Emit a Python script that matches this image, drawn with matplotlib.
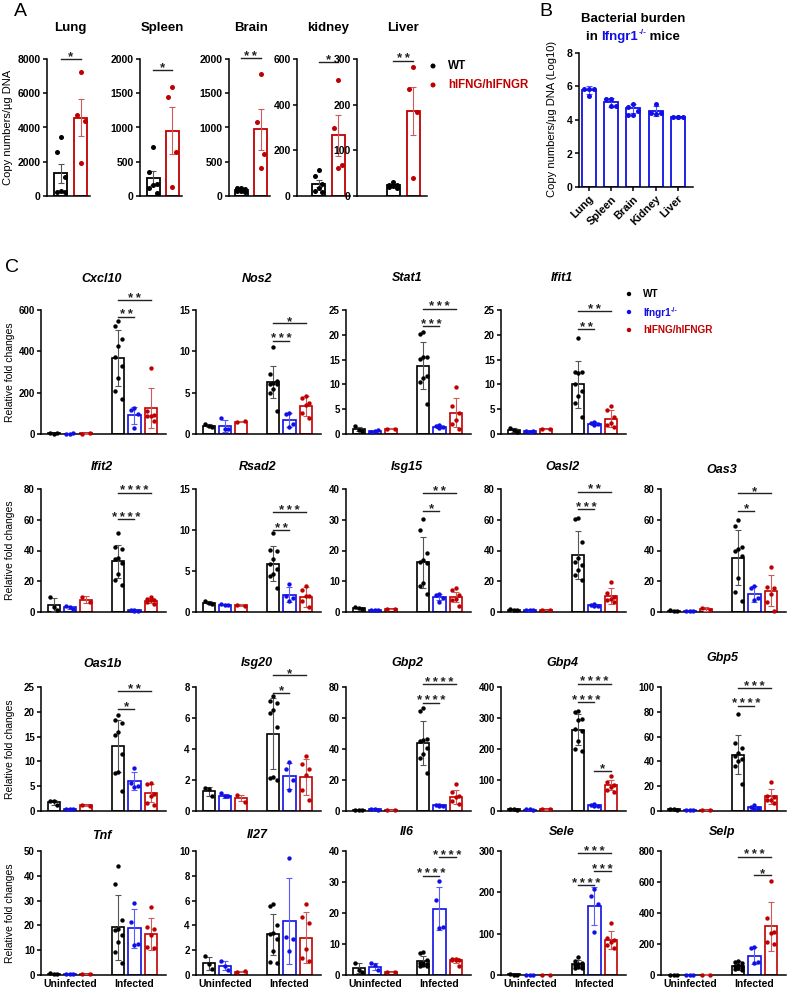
import numpy as np
import matplotlib
matplotlib.use('Agg')
import matplotlib.pyplot as plt
from matplotlib.ticker import FuncFormatter

plt.rcParams['font.family'] = ['Liberation Sans', 'DejaVu Sans']
plt.rcParams['mathtext.fontset'] = 'custom'
plt.rcParams['mathtext.rm'] = 'Liberation Sans'
plt.rcParams['mathtext.bf'] = 'Liberation Sans:bold'

W, H = 792, 991

# ====================== DATA ======================
# ---- Panel A: copy numbers / ug DNA (mean +/- SEM) ----
A_organs = ['Lung', 'Spleen', 'Brain', 'kidney', 'Liver']
A_wt_lung = [3463, 2552, 1127, 251, 251, 310]
A_hu_lung = [7259, 4730, 4397, 1910]
A_wt_spleen = [720, 355, 175, 112, 40, 160]
A_hu_spleen = [1587, 1450, 647, 127]
A_wt_brain = [120, 110, 95, 80, 70, 60]
A_hu_brain = [1786, 1078, 607, 413]
A_wt_kidney = [114, 87, 51, 36, 22, 17]
A_hu_kidney = [510, 298, 135, 121]
A_wt_liver = [30, 25, 22, 20, 18, 25]
A_hu_liver = [283, 235, 183, 40]
A_ymax = [8000, 2000, 2000, 600, 300]
A_step = [2000, 500, 500, 200, 100]
A_sig = ['*', '*', '**', '*', '**']
A_sig_y = [8000, 1840, 2015, 587, 296]

# ---- Panel B: Ifngr1-/- bacterial burden (Log10) ----
B_labels = ['Lung', 'Spleen', 'Brain', 'Kidney', 'Liver']
B_mean = [5.78, 5.05, 4.70, 4.53, 4.16]
B_sd = [0.22, 0.27, 0.28, 0.30, 0.04]
B_pts_lung = [5.85, 5.85, 5.85, 5.42]
B_pts_spleen = [5.25, 5.28, 4.85, 4.85]
B_pts_brain = [4.95, 4.80, 4.55, 4.30, 4.30]
B_pts_kidney = [4.95, 4.40, 4.40, 4.35]
B_pts_liver = [4.20, 4.18, 4.15, 4.15]

# ---- Panel C: relative fold changes (mean +/- SD) ----
# group order: Uninfected WT, Ifngr1-/-, hIFNG/hIFNGR, Infected WT, Ifngr1-/-, hIFNG/hIFNGR
groups = ['WT', 'Ifngr1-/-', 'hIFNG/hIFNGR']
conditions = ['Uninfected', 'Infected']

cxcl10_pts = [[4, 2, 3], [2, 2, 3], [2, 3], [545, 525, 460, 425, 375, 330, 270, 210, 170], [125, 118, 95, 30], [321, 110, 94, 86, 86, 62]]
cxcl10_mean = [3, 2, 2.5, 368, 90, 126]
cxcl10_sd = [1, 0.5, 0.5, 137, 40, 95]

nos2_pts = [[1.25, 0.95, 0.9], [1.9, 0.55, 0.6], [1.5, 1.55], [10.5, 7.3, 6.4, 6.2, 6.1, 6.0, 5.4, 5.0, 2.8], [2.5, 2.4, 1.2, 0.8], [4.6, 4.4, 3.8, 3.5, 2.6, 1.9]]
nos2_mean = [1.0, 1.0, 1.5, 6.3, 1.7, 3.4]
nos2_sd = [0.15, 0.75, 0.05, 1.9, 0.85, 1.2]

stat1_pts = [[1.6, 0.9, 0.7], [0.5, 0.7, 0.8], [1.1, 1.1], [20.5, 20.2, 15.6, 15.5, 15.2, 11.6, 11.2, 10.5, 6.0], [1.8, 1.6, 1.4, 1.2], [9.5, 5.6, 4.3, 2.9, 2.1, 1.1]]
stat1_mean = [1.0, 0.6, 1.1, 13.8, 1.5, 4.3]
stat1_sd = [0.45, 0.15, 0.05, 4.8, 0.25, 2.9]

ifit1_pts = [[1.3, 0.9, 0.4], [0.6, 0.5, 0.6], [1.0, 1.0], [19.3, 12.6, 12.4, 12.2, 10.0, 8.6, 7.6, 6.3, 3.5], [2.4, 2.2, 2.0, 1.8], [5.6, 4.8, 3.5, 2.3, 1.8, 1.5]]
ifit1_mean = [0.85, 0.55, 1.0, 10.0, 2.1, 3.1]
ifit1_sd = [0.4, 0.05, 0.03, 4.8, 0.3, 1.7]

ifit2_pts = [[9.5, 3.0, 1.5], [4.0, 3.5, 2.0], [10.0, 6.5], [51.2, 42.2, 40.9, 35.0, 34.4, 31.8, 24.9, 21.0, 17.3], [1.2, 1.0, 0.9, 0.8], [10.0, 8.5, 8.0, 7.5, 6.5, 5.5]]
ifit2_mean = [4.7, 3.2, 8.0, 32.9, 1.0, 7.4]
ifit2_sd = [4.3, 1.0, 2.3, 10.8, 0.2, 1.8]

rsad2_pts = [[1.4, 1.1, 1.0], [0.95, 0.9, 0.85], [0.9, 0.75], [9.6, 7.6, 7.4, 6.5, 5.8, 5.2, 4.65, 4.4, 2.9], [3.4, 2.0, 1.7, 1.4], [3.2, 2.7, 2.0, 1.9, 1.3, 0.65]]
rsad2_mean = [1.15, 0.9, 0.82, 5.9, 2.1, 1.86]
rsad2_sd = [0.2, 0.05, 0.1, 2.1, 0.9, 1.2]

isg15_pts = [[1.5, 1.2, 1.0], [0.8, 0.7, 0.7], [1.1, 1.0], [30.3, 26.8, 19.3, 17.0, 16.3, 15.8, 9.4, 8.6, 5.9], [5.8, 5.5, 4.5, 3.4], [7.7, 7.3, 5.6, 4.1, 3.9, 2.1]]
isg15_mean = [1.2, 0.75, 1.05, 16.1, 5.0, 4.8]
isg15_sd = [0.25, 0.05, 0.05, 8.2, 1.0, 1.6]

oasl2_pts = [[2.2, 1.5, 1.0], [1.2, 1.0, 1.0], [1.1, 1.0], [61.3, 60.2, 45.6, 35.2, 32.2, 30.4, 27.2, 23.9, 20.6], [5.0, 4.5, 4.0, 3.8], [19.3, 12.5, 9.8, 8.7, 7.5, 6.2]]
oasl2_mean = [1.3, 1.0, 1.05, 37.0, 4.3, 10.4]
oasl2_sd = [0.6, 0.1, 0.05, 15.6, 0.5, 5.2]

oas3_pts = [[1.2, 0.9, 0.6], [0.6, 0.7, 0.5], [2.8, 1.2], [59.6, 55.7, 42.4, 41.3, 40.0, 36.3, 22.4, 12.7, 7.3], [17.0, 15.5, 8.8, 7.7], [29.5, 16.3, 15.5, 12.0, 6.2, 0.9]]
oas3_mean = [0.86, 0.6, 1.9, 35.3, 11.6, 13.8]
oas3_sd = [0.3, 0.1, 1.4, 17.8, 5.2, 10.0]

oas1b_pts = [[2.1, 2.0, 1.2], [0.45, 0.4, 0.4], [1.2, 1.1], [19.3, 18.3, 17.8, 16.0, 15.3, 11.4, 7.9, 7.6, 4.1], [8.7, 5.6, 5.0, 4.8], [5.6, 5.5, 3.4, 3.0, 1.7, 1.2]]
oas1b_mean = [1.8, 0.45, 1.15, 13.1, 6.0, 3.6]
oas1b_sd = [0.5, 0.05, 0.05, 5.3, 1.8, 1.8]

isg20_pts = [[1.5, 1.4, 1.0], [1.15, 1.0, 0.95], [1.05, 0.6], [7.4, 7.1, 7.0, 6.5, 6.3, 5.4, 2.2, 2.15, 2.0], [3.16, 2.73, 1.98, 1.33], [3.55, 3.05, 2.73, 2.3, 1.33, 0.69]]
isg20_mean = [1.27, 0.97, 0.84, 5.0, 2.26, 2.2]
isg20_sd = [0.28, 0.12, 0.2, 2.3, 0.85, 1.15]

gbp2_pts = [[0.9, 0.8, 0.7], [1.2, 1.0, 0.9], [0.8, 0.8], [66.4, 64.4, 46.5, 46.0, 45.3, 40.5, 36.6, 34.5, 24.4], [4.0, 3.8, 3.5, 3.4], [17.5, 12.1, 10.0, 8.8, 6.7, 4.5]]
gbp2_mean = [0.8, 1.0, 0.8, 43.8, 3.6, 9.3]
gbp2_sd = [0.1, 0.15, 0.05, 14.0, 0.3, 4.5]

gbp4_pts = [[8, 5, 3], [5, 5, 4], [5, 5], [324, 319, 297, 292, 265, 259, 227, 200, 192], [24, 19, 17, 16], [113, 92, 85, 78, 67, 60]]
gbp4_mean = [5.3, 4.7, 5, 261.6, 19, 84]
gbp4_sd = [2.5, 0.5, 0.3, 50, 3.5, 16]

gbp5_pts = [[1.5, 1.5, 1.0], [0.8, 0.8, 0.8], [1.0, 1.0], [78.4, 55, 51, 47, 44, 42, 40, 36, 22], [4.5, 3.5, 2.5, 2.0], [23.7, 12.5, 11.2, 9.1, 8.5, 6.4]]
gbp5_mean = [1.3, 0.8, 1.0, 45.3, 3.1, 11.7]
gbp5_sd = [0.3, 0.05, 0.05, 15.7, 1.1, 5.9]

tnf_pts = [[1.0, 0.6, 0.3], [0.5, 0.5, 0.5], [0.5, 0.6], [44.1, 36.7, 22.2, 18.4, 18.1, 16.1, 13.4, 9.4, 5.0], [29.2, 21.5, 12.5, 12.0], [27.6, 19.5, 18.4, 16.1, 11.2, 10.8]]
tnf_mean = [0.6, 0.5, 0.55, 19.2, 18.8, 16.5]
tnf_sd = [0.35, 0.05, 0.05, 13.1, 7.8, 6.3]

il27_pts = [[1.5, 0.9, 0.45], [1.1, 0.75, 0.4], [0.25, 0.3], [5.7, 5.56, 4.03, 3.41, 3.28, 2.88, 1.94, 1.08, 1.0], [9.46, 3.1, 2.88, 1.94], [5.7, 4.68, 4.22, 2.07, 1.34, 1.13]]
il27_mean = [0.95, 0.75, 0.27, 3.28, 4.35, 3.0]
il27_sd = [0.53, 0.35, 0.03, 1.65, 3.45, 2.05]

il6_pts = [[4.0, 1.5, 1.0], [3.75, 3.2, 1.6], [1.0, 0.9], [7.5, 7.0, 5.0, 4.0, 3.8, 3.5, 3.2, 3.0, 2.8], [30.3, 24.1, 15.5, 15.3], [5.3, 5.1, 5.0, 4.9, 4.8, 2.8]]
il6_mean = [2.14, 2.7, 0.95, 4.5, 21.4, 4.7]
il6_sd = [1.6, 1.1, 0.05, 1.6, 7.0, 0.9]

sele_pts = [[2, 1, 1], [1, 1, 1], [1, 1], [43, 34, 30, 27, 25, 22, 20, 18, 16], [207, 191, 171, 105], [126, 90, 85, 80, 72, 66]]
sele_mean = [1.3, 1, 1, 27, 167, 84]
sele_sd = [0.5, 0.1, 0.1, 9, 45, 22]

selp_pts = [[2, 2, 2], [2, 2, 2], [3, 3], [90, 82, 75, 65, 60, 54, 45, 40, 32], [183, 172, 86, 75], [609, 366, 275, 269, 215, 198]]
selp_mean = [2, 2, 3, 60, 125, 316]
selp_sd = [0.3, 0.3, 0.3, 30, 57, 158]

# gene name, points, mean, sd, ymax, tick step, significance (group i, group j, y, label)
genes = [
    [('Cxcl10', cxcl10_pts, cxcl10_mean, cxcl10_sd, 600, 200, [(3, 4, 567, '**'), (3, 5, 648, '**')]),
     ('Nos2', nos2_pts, nos2_mean, nos2_sd, 15, 5, [(3, 4, 11.3, '***'), (3, 5, 13.4, '*')]),
     ('Stat1', stat1_pts, stat1_mean, stat1_sd, 25, 5, [(3, 4, 21.7, '***'), (3, 5, 25.3, '***')]),
     ('Ifit1', ifit1_pts, ifit1_mean, ifit1_sd, 25, 5, [(3, 4, 21.1, '**'), (3, 5, 24.7, '**')]),
     None],
    [('Ifit2', ifit2_pts, ifit2_mean, ifit2_sd, 80, 20, [(3, 4, 60.5, '****'), (3, 5, 77.6, '****')]),
     ('Rsad2', rsad2_pts, rsad2_mean, rsad2_sd, 15, 5, [(3, 4, 10.0, '**'), (3, 5, 12.2, '***')]),
     ('Isg15', isg15_pts, isg15_mean, isg15_sd, 40, 10, [(3, 4, 32.9, '*'), (3, 5, 38.6, '**')]),
     ('Oasl2', oasl2_pts, oasl2_mean, oasl2_sd, 80, 20, [(3, 4, 66.7, '***'), (3, 5, 78.3, '**')]),
     ('Oas3', oas3_pts, oas3_mean, oas3_sd, 80, 20, [(3, 4, 66, '*'), (3, 5, 77.2, '*')])],
    [('Oas1b', oas1b_pts, oas1b_mean, oas1b_sd, 25, 5, [(3, 4, 20.6, '*'), (3, 5, 24.1, '**')]),
     ('Isg20', isg20_pts, isg20_mean, isg20_sd, 8, 2, [(3, 4, 7.63, '*'), (3, 5, 8.75, '*')]),
     ('Gbp2', gbp2_pts, gbp2_mean, gbp2_sd, 80, 20, [(3, 4, 69.8, '****'), (3, 5, 81.7, '****')]),
     ('Gbp4', gbp4_pts, gbp4_mean, gbp4_sd, 400, 100, [(3, 4, 351, '****'), (3, 5, 411, '****'), (4, 5, 130, '*')]),
     ('Gbp5', gbp5_pts, gbp5_mean, gbp5_sd, 100, 20, [(3, 4, 85, '****'), (3, 5, 99.2, '***')])],
    [('Tnf', tnf_pts, tnf_mean, tnf_sd, 50, 10, []),
     ('Il27', il27_pts, il27_mean, il27_sd, 10, 2, []),
     ('Il6', il6_pts, il6_mean, il6_sd, 40, 10, [(3, 4, 32, '****'), (4, 5, 38.1, '****')]),
     ('Sele', sele_pts, sele_mean, sele_sd, 300, 100, [(3, 4, 218, '****'), (4, 5, 252, '***'), (3, 5, 294, '***')]),
     ('Selp', selp_pts, selp_mean, selp_sd, 800, 200, [(3, 5, 763, '***'), (4, 5, 645, '*')])],
]

# ====================== STYLE / LAYOUT ======================
BLACK = '#000000'
BLUE = '#1010e6'
RED = '#c00000'
COLS = [BLACK, BLUE, RED]
ECOLS = ['#555555', '#5a5aff', '#d05a5a']

fig = plt.figure(figsize=(W / 100, H / 100), dpi=100)


def px_axes(left, top, right, bottom):
    ax = fig.add_axes([left / W, 1 - bottom / H, (right - left) / W, (bottom - top) / H])
    ax.set_facecolor('none')
    return ax


fmt = FuncFormatter(lambda v, p: '%g' % v)


def style(ax, ymax, step, fs=7):
    ax.set_ylim(0, ymax)
    ax.set_yticks(np.arange(0, ymax + step / 2, step))
    ax.yaxis.set_major_formatter(fmt)
    for s in ['top', 'right']:
        ax.spines[s].set_visible(False)
    for s in ['left', 'bottom']:
        ax.spines[s].set_linewidth(1.1)
    ax.tick_params(axis='y', length=3, width=1.1, labelsize=fs, pad=1.5)
    ax.tick_params(axis='x', length=0, labelbottom=False)
    for t in ax.get_yticklabels():
        t.set_fontweight('bold')


def offsets(vals, spread):
    n = len(vals)
    if n == 1:
        return np.zeros(1)
    if n <= 3:
        return np.linspace(-spread, spread, n)
    pattern = [0.0, -spread, spread]
    order = np.argsort(-np.asarray(vals, dtype=float))
    off = np.zeros(n)
    for rank, idx in enumerate(order):
        off[idx] = pattern[rank % 3]
    return off


def draw_group(ax, x, mean, err, pts, ci, width, spread, s=10, lw=1.2):
    ax.bar(x, mean, width=width, facecolor='white', edgecolor=COLS[ci], linewidth=lw, zorder=2)
    ax.errorbar(x, mean, yerr=err, fmt='none', ecolor=ECOLS[ci], elinewidth=0.8,
                capsize=2.5, capthick=0.8, zorder=3)
    ax.scatter(x + offsets(pts, spread), pts, s=s, color=COLS[ci], zorder=4,
               linewidths=0, clip_on=False)


def sig(ax, x1, x2, y, label, fs=9.5):
    ax.plot([x1, x2], [y, y], color='#222222', lw=1.0, clip_on=False, zorder=5)
    ax.annotate('\u2009'.join(label), xy=((x1 + x2) / 2, y), xytext=(0, -1.2),
                textcoords='offset points', ha='center', va='baseline',
                fontsize=fs, fontweight='bold', color='#222222', annotation_clip=False)


overlay = fig.add_axes([0, 0, 1, 1], zorder=10)
overlay.set_xlim(0, W)
overlay.set_ylim(H, 0)
overlay.axis('off')

# ---------------- Panel A ----------------
A_wt = [A_wt_lung, A_wt_spleen, A_wt_brain, A_wt_kidney, A_wt_liver]
A_hu = [A_hu_lung, A_hu_spleen, A_hu_brain, A_hu_kidney, A_hu_liver]
# layout: axis left, first bar centre, second bar centre, axis right (pixels)
A_geom = [(47, 60.5, 80.5, 90), (140, 153, 172, 182), (229, 241, 260.5, 270),
          (297, 318.5, 338, 350), (357, 393, 413, 427)]
A_top, A_bot = 59, 196
for k in range(5):
    l, c0, c1, r = A_geom[k]
    u = c1 - c0
    ax = px_axes(l, A_top, r, A_bot)
    ax.set_xlim(-(c0 - l) / u, 1 + (r - c1) / u)
    for gi, (vals, ci) in enumerate([(A_wt[k], 0), (A_hu[k], 2)]):
        v = np.asarray(vals, float)
        m = v.mean()
        sem = v.std(ddof=1) / np.sqrt(len(v))
        draw_group(ax, gi, m, sem, vals, ci, 13 / u, 0.2, s=13, lw=1.3)
    style(ax, A_ymax[k], A_step[k], fs=7.5)
    sig(ax, 0, 1, A_sig_y[k], A_sig[k], fs=9.5)
    overlay.text((c0 + c1) / 2, 28, A_organs[k], ha='center', va='center',
                 fontsize=9.5, fontweight='bold')

overlay.text(8, 127, 'Copy numbers/µg DNA', rotation=90, ha='center', va='center', fontsize=8)
overlay.text(14, 11, 'A', fontsize=14, ha='left', va='center')
# legend A
overlay.scatter([433, 433], [66, 85], s=13, color=[BLACK, RED], linewidths=0)
overlay.text(448, 66, 'WT', fontsize=8.5, fontweight='bold', va='center', color=BLACK)
overlay.text(448, 85, 'hIFNG/hIFNGR', fontsize=8.3, fontweight='bold', va='center', color=RED)

# ---------------- Panel B ----------------
B_pts = [B_pts_lung, B_pts_spleen, B_pts_brain, B_pts_kidney, B_pts_liver]
bl, bc0, bu, br = 579, 588.7, 22.3, 693
axb = px_axes(bl, 53, br, 187)
axb.set_xlim(-(bc0 - bl) / bu, 4 + (br - (bc0 + 4 * bu)) / bu)
for i in range(5):
    axb.bar(i, B_mean[i], width=14 / bu, facecolor='white', edgecolor=BLUE, linewidth=1.3, zorder=2)
    axb.errorbar(i, B_mean[i], yerr=B_sd[i], fmt='none', ecolor=ECOLS[1], elinewidth=0.8,
                 capsize=2.5, capthick=0.8, zorder=3)
    axb.scatter(i + offsets(B_pts[i], 0.22), B_pts[i], s=13, color=BLUE, zorder=4, linewidths=0)
style(axb, 8, 2, fs=7.5)
axb.set_xticks(range(5))
axb.tick_params(axis='x', length=3, width=1.1, labelbottom=True, labelsize=8, pad=2)
axb.set_xticklabels(B_labels, rotation=45, ha='right', rotation_mode='anchor', fontweight='bold')
overlay.text(552, 119, 'Copy numbers/µg DNA (Log10)', rotation=90, ha='center', va='center', fontsize=8)
overlay.text(539, 11, 'B', fontsize=14, ha='left', va='center')
overlay.text(633, 19, 'Bacterial burden', ha='center', va='center', fontsize=9.5, fontweight='bold')

renderer = fig.canvas.get_renderer()


def rich_text(xc, y, segs, ha='center'):
    """segs: list of (text, color, fontsize, dy)"""
    widths = []
    objs = []
    for txt, col, fs, dy in segs:
        t = overlay.text(0, y + dy, txt, fontsize=fs, fontweight='bold', color=col, va='center', ha='left')
        objs.append(t)
        widths.append(t.get_window_extent(renderer).width)
    total = sum(widths)
    x = xc - total / 2 if ha == 'center' else xc
    for t, w in zip(objs, widths):
        t.set_x(x)
        x += w


rich_text(633, 37, [('in ', BLACK, 9.5, 0), ('Ifngr1', BLUE, 9.5, 0), ('-/-', BLUE, 6, -4),
                    (' mice', BLACK, 9.5, 0)])

# ---------------- Panel C ----------------
col_left = [41, 196, 346, 501, 661]
col_w = 125
rows = [(310, 434), (489, 612), (687, 811), (851, 975)]
title_y = [[279, 279, 278, 278, 278], [467, 467, 467, 467, 470], [664, 663, 663, 663, 658],
           [836, 835, 832, 832, 832]]
xpos = [0, 1, 2, 4, 5, 6]
for r in range(4):
    top, bot = rows[r]
    for c in range(5):
        g = genes[r][c]
        if g is None:
            continue
        name, pts, mean, sd, ymax, step, sigs = g
        ax = px_axes(col_left[c], top, col_left[c] + col_w, bot)
        ax.set_xlim(-0.78, 6.95)
        for k in range(6):
            draw_group(ax, xpos[k], mean[k], sd[k], pts[k], k % 3, 0.75, 0.22, s=10)
        style(ax, ymax, step, fs=7)
        for (i, j, y, lab) in sigs:
            sig(ax, xpos[i], xpos[j], y, lab, fs=9.5)
        overlay.text(col_left[c] + col_w * (3 + 0.78) / 7.73, title_y[r][c], name, ha='center',
                     va='center', fontsize=9, fontweight='bold', style='italic')
        if r == 3:
            ax.set_xticks([1, 5])
            ax.set_xticklabels(conditions, fontsize=7.5, fontweight='bold')
            ax.tick_params(axis='x', length=0, labelbottom=True, pad=3)
        if c == 0:
            overlay.text(10, (top + bot) / 2, 'Relative fold changes', rotation=90,
                         ha='center', va='center', fontsize=7.5)

overlay.text(5, 268, 'C', fontsize=14, ha='left', va='center')
# legend C
overlay.scatter([629, 629, 629], [294, 312, 330], s=10, color=COLS, linewidths=0)
overlay.text(643, 294, 'WT', fontsize=7.2, fontweight='bold', va='center', color=BLACK)
rich_text(643, 313, [('Ifngr1', BLUE, 7.2, 0), ('-/-', BLUE, 5, -3)], ha='left')
overlay.text(643, 330, 'hIFNG/hIFNGR', fontsize=7.2, fontweight='bold', va='center', color=RED)

fig.savefig('out.png', dpi=100)
